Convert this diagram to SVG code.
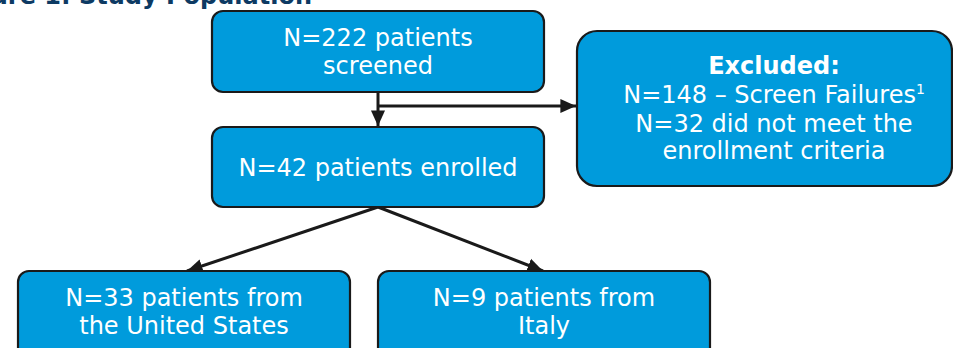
<svg xmlns="http://www.w3.org/2000/svg" width="953" height="348" viewBox="0 0 953 348">
<defs>
<style>
.box{fill:#009bdc;stroke:#1a1a1a;stroke-width:2.2}
.t{font-family:"DejaVu Sans",Verdana,sans-serif;font-size:24px;fill:#ffffff;text-anchor:middle}
.b{font-weight:bold}
.c{stroke:#1a1a1a;stroke-width:3;fill:none}
.title{font-family:"DejaVu Sans",Verdana,sans-serif;font-size:24px;font-weight:bold;fill:#0d3a63;text-anchor:end}
</style>
<marker id="ah" viewBox="0 0 10 10" refX="10" refY="5" markerWidth="5.2" markerHeight="5.2" markerUnits="strokeWidth" orient="auto">
<path d="M0,0.5 L10,5 L0,9.5 z" fill="#1a1a1a"/>
</marker>
</defs>
<rect width="953" height="348" fill="#ffffff"/>
<text class="title" x="312" y="4">Figure 1: Study Population</text>
<g id="connectors">
<path class="c" d="M378,92 V126" marker-end="url(#ah)"/>
<path class="c" d="M378,106 H576" marker-end="url(#ah)"/>
<path class="c" d="M378,207 L187,271" marker-end="url(#ah)"/>
<path class="c" d="M378,207 L543,271" marker-end="url(#ah)"/>
</g>
<g id="screened">
<rect class="box" x="212" y="11" width="332" height="81" rx="11"/>
<text class="t" x="378" y="46">N=222 patients</text>
<text class="t" x="378" y="74">screened</text>
</g>
<g id="enrolled">
<rect class="box" x="212" y="127" width="332" height="80" rx="11"/>
<text class="t" x="378" y="176">N=42 patients enrolled</text>
</g>
<g id="excluded">
<rect class="box" x="577" y="31" width="375" height="155" rx="20"/>
<text class="t b" x="774" y="74">Excluded:</text>
<text class="t" x="774" y="103">N=148 – Screen Failures<tspan font-size="14" dy="-9">1</tspan></text>
<text class="t" x="774" y="132">N=32 did not meet the</text>
<text class="t" x="774" y="159">enrollment criteria</text>
</g>
<g id="us">
<rect class="box" x="18" y="271" width="332" height="90" rx="11"/>
<text class="t" x="184" y="306">N=33 patients from</text>
<text class="t" x="184" y="334">the United States</text>
</g>
<g id="italy">
<rect class="box" x="378" y="271" width="332" height="90" rx="11"/>
<text class="t" x="544" y="306">N=9 patients from</text>
<text class="t" x="544" y="334">Italy</text>
</g>
</svg>
